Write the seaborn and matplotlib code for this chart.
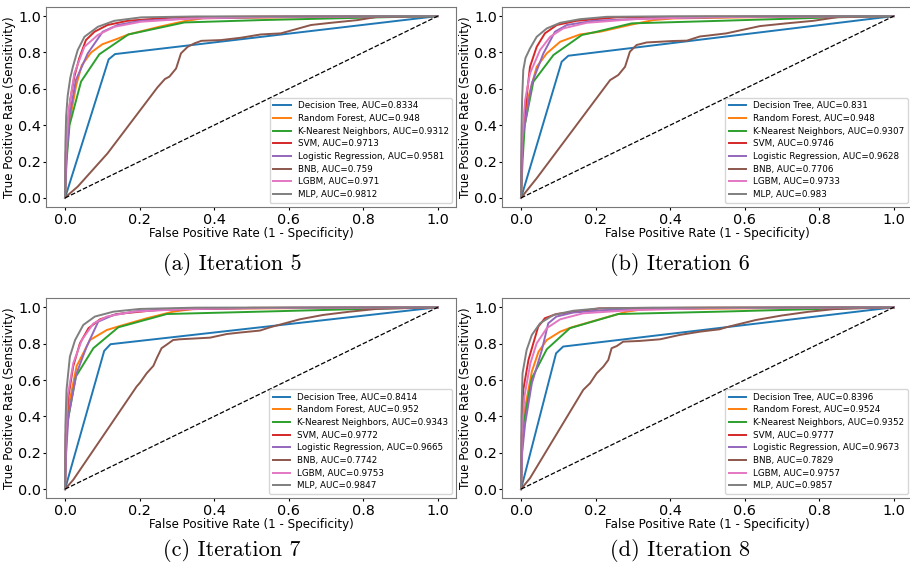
import pandas as pd
import seaborn as sns
import matplotlib.pyplot as plt

models = ['Decision Tree', 'Random Forest', 'K-Nearest Neighbors', 'SVM',
          'Logistic Regression', 'BNB', 'LGBM', 'MLP']
iterations = [5, 6, 7, 8]
tags = ['a', 'b', 'c', 'd']

# AUC values as printed in the legends
auc_5 = ['0.8334', '0.948', '0.9312', '0.9713', '0.9581', '0.759', '0.971', '0.9812']
auc_6 = ['0.831', '0.948', '0.9307', '0.9746', '0.9628', '0.7706', '0.9733', '0.983']
auc_7 = ['0.8414', '0.952', '0.9343', '0.9772', '0.9665', '0.7742', '0.9753', '0.9847']
auc_8 = ['0.8396', '0.9524', '0.9352', '0.9777', '0.9673', '0.7829', '0.9757', '0.9857']

# ROC points (fpr, tpr), iteration 5
dt_5 = ([0, 0.117, 0.134, 1], [0, 0.762, 0.791, 1])
rf_5 = ([0, 0.005, 0.012, 0.03, 0.045, 0.07, 0.1, 0.14, 0.17, 0.25, 0.32, 0.37, 0.6, 1],
        [0, 0.3, 0.42, 0.62, 0.73, 0.8, 0.845, 0.875, 0.899, 0.94, 0.972, 0.988, 0.993, 1])
knn_5 = ([0, 0.004, 0.012, 0.043, 0.092, 0.17, 0.32, 0.525, 0.84, 1],
         [0, 0.2, 0.4, 0.64, 0.79, 0.899, 0.965, 0.978, 0.993, 1])
svm_5 = ([0, 0.002, 0.008, 0.014, 0.025, 0.038, 0.056, 0.079, 0.114, 0.168, 0.293, 0.5, 1],
         [0, 0.25, 0.42, 0.54, 0.667, 0.767, 0.868, 0.914, 0.951, 0.974, 0.993, 0.997, 1])
lr_5 = ([0, 0.003, 0.012, 0.029, 0.061, 0.101, 0.141, 0.204, 0.338, 0.6, 1],
        [0, 0.2, 0.447, 0.648, 0.795, 0.914, 0.951, 0.974, 0.987, 0.996, 1])
bnb_5 = ([0, 0.003, 0.034, 0.114, 0.248, 0.268, 0.28, 0.298, 0.311, 0.329, 0.347, 0.366,
          0.418, 0.472, 0.525, 0.579, 0.66, 0.713, 0.785, 0.838, 1],
         [0, 0.007, 0.062, 0.245, 0.608, 0.654, 0.667, 0.712, 0.795, 0.831, 0.85, 0.864,
          0.868, 0.881, 0.899, 0.905, 0.951, 0.963, 0.978, 0.996, 1])
lgbm_5 = ([0, 0.002, 0.01, 0.025, 0.052, 0.088, 0.132, 0.204, 0.338, 0.517, 1],
          [0, 0.25, 0.484, 0.685, 0.831, 0.896, 0.941, 0.969, 0.987, 0.996, 1])
mlp_5 = ([0, 0.001, 0.003, 0.007, 0.014, 0.021, 0.034, 0.052, 0.088, 0.132, 0.204, 0.35, 1],
         [0, 0.3, 0.45, 0.56, 0.66, 0.721, 0.813, 0.886, 0.941, 0.974, 0.993, 0.998, 1])

# iteration 6
dt_6 = ([0, 0.109, 0.127, 1], [0, 0.749, 0.782, 1])
rf_6 = ([0, 0.004, 0.01, 0.02, 0.042, 0.069, 0.105, 0.158, 0.212, 0.3, 0.355, 0.408, 0.6, 1],
        [0, 0.3, 0.45, 0.557, 0.721, 0.795, 0.859, 0.899, 0.914, 0.955, 0.978, 0.987, 0.993, 1])
knn_6 = ([0, 0.004, 0.01, 0.033, 0.087, 0.163, 0.203, 0.297, 0.534, 0.837, 1],
         [0, 0.2, 0.4, 0.639, 0.786, 0.896, 0.914, 0.96, 0.974, 0.993, 1])
svm_6 = ([0, 0.002, 0.006, 0.011, 0.024, 0.042, 0.064, 0.096, 0.149, 0.256, 0.5, 1],
         [0, 0.25, 0.38, 0.484, 0.721, 0.831, 0.905, 0.951, 0.974, 0.993, 0.997, 1])
lr_6 = ([0, 0.002, 0.006, 0.029, 0.06, 0.091, 0.123, 0.194, 0.346, 0.6, 1],
        [0, 0.2, 0.355, 0.63, 0.795, 0.914, 0.951, 0.974, 0.987, 0.996, 1])
bnb_6 = ([0, 0.024, 0.042, 0.239, 0.261, 0.279, 0.292, 0.31, 0.337, 0.408, 0.445, 0.48,
          0.498, 0.551, 0.641, 0.712, 0.784, 0.855, 1],
         [0, 0.062, 0.108, 0.648, 0.676, 0.721, 0.804, 0.841, 0.855, 0.863, 0.865, 0.888,
          0.892, 0.905, 0.945, 0.96, 0.974, 0.996, 1])
lgbm_6 = ([0, 0.002, 0.011, 0.024, 0.051, 0.078, 0.113, 0.176, 0.301, 0.5, 1],
          [0, 0.3, 0.538, 0.685, 0.813, 0.886, 0.932, 0.963, 0.983, 0.995, 1])
mlp_6 = ([0, 0.001, 0.003, 0.006, 0.012, 0.024, 0.042, 0.069, 0.105, 0.158, 0.23, 0.4, 1],
         [0, 0.35, 0.55, 0.703, 0.77, 0.822, 0.886, 0.932, 0.963, 0.983, 0.996, 0.999, 1])

# iteration 7
dt_7 = ([0, 0.105, 0.122, 1], [0, 0.76, 0.797, 1])
rf_7 = ([0, 0.004, 0.013, 0.031, 0.067, 0.112, 0.147, 0.22, 0.29, 0.344, 0.6, 1],
        [0, 0.3, 0.491, 0.676, 0.82, 0.875, 0.897, 0.94, 0.976, 0.991, 0.995, 1])
knn_7 = ([0, 0.003, 0.029, 0.076, 0.143, 0.273, 0.523, 0.84, 1],
         [0, 0.326, 0.619, 0.775, 0.89, 0.963, 0.976, 0.993, 1])
svm_7 = ([0, 0.002, 0.009, 0.022, 0.04, 0.063, 0.094, 0.139, 0.246, 0.5, 1],
         [0, 0.3, 0.509, 0.676, 0.802, 0.885, 0.934, 0.963, 0.985, 0.997, 1])
lr_7 = ([0, 0.003, 0.009, 0.031, 0.058, 0.089, 0.13, 0.201, 0.35, 0.6, 1],
        [0, 0.2, 0.4, 0.637, 0.784, 0.921, 0.958, 0.981, 0.992, 0.997, 1])
bnb_7 = ([0, 0.022, 0.192, 0.201, 0.219, 0.237, 0.246, 0.259, 0.273, 0.29, 0.308, 0.389,
          0.434, 0.469, 0.523, 0.55, 0.63, 0.693, 0.764, 0.836, 1],
         [0, 0.051, 0.564, 0.585, 0.637, 0.678, 0.72, 0.775, 0.795, 0.82, 0.824, 0.833,
          0.853, 0.861, 0.872, 0.89, 0.934, 0.958, 0.976, 0.991, 1])
lgbm_7 = ([0, 0.002, 0.007, 0.022, 0.045, 0.076, 0.112, 0.183, 0.32, 0.5, 1],
          [0, 0.3, 0.509, 0.692, 0.82, 0.911, 0.949, 0.976, 0.99, 0.996, 1])
mlp_7 = ([0, 0.001, 0.004, 0.013, 0.027, 0.049, 0.08, 0.13, 0.201, 0.35, 1],
         [0, 0.35, 0.546, 0.729, 0.82, 0.903, 0.949, 0.976, 0.991, 0.998, 1])

# iteration 8
dt_8 = ([0, 0.094, 0.113, 1], [0, 0.747, 0.784, 1])
rf_8 = ([0, 0.004, 0.011, 0.029, 0.047, 0.069, 0.105, 0.136, 0.221, 0.283, 0.328, 0.6, 1],
        [0, 0.3, 0.45, 0.647, 0.756, 0.82, 0.866, 0.89, 0.94, 0.976, 0.989, 0.994, 1])
knn_8 = ([0, 0.004, 0.029, 0.069, 0.131, 0.261, 0.533, 0.84, 1],
         [0, 0.33, 0.61, 0.769, 0.885, 0.963, 0.976, 0.993, 1])
svm_8 = ([0, 0.002, 0.006, 0.02, 0.033, 0.046, 0.064, 0.095, 0.167, 0.21, 0.5, 1],
         [0, 0.3, 0.546, 0.711, 0.802, 0.893, 0.94, 0.963, 0.981, 0.994, 0.998, 1])
lr_8 = ([0, 0.003, 0.011, 0.029, 0.056, 0.073, 0.095, 0.14, 0.23, 0.5, 1],
        [0, 0.2, 0.36, 0.582, 0.766, 0.912, 0.949, 0.971, 0.985, 0.996, 1])
bnb_8 = ([0, 0.024, 0.167, 0.185, 0.203, 0.221, 0.234, 0.243, 0.257, 0.274, 0.319, 0.373,
          0.426, 0.48, 0.533, 0.55, 0.63, 0.7, 0.77, 0.84, 1],
         [0, 0.06, 0.546, 0.582, 0.637, 0.674, 0.71, 0.775, 0.787, 0.811, 0.815, 0.824,
          0.848, 0.866, 0.879, 0.89, 0.93, 0.955, 0.975, 0.99, 1])
lgbm_8 = ([0, 0.002, 0.009, 0.025, 0.042, 0.069, 0.105, 0.167, 0.301, 0.5, 1],
          [0, 0.3, 0.509, 0.692, 0.802, 0.885, 0.934, 0.967, 0.985, 0.995, 1])
mlp_8 = ([0, 0.001, 0.004, 0.015, 0.029, 0.051, 0.087, 0.14, 0.21, 0.35, 1],
         [0, 0.4, 0.637, 0.765, 0.848, 0.912, 0.958, 0.981, 0.994, 0.998, 1])

roc_5 = [dt_5, rf_5, knn_5, svm_5, lr_5, bnb_5, lgbm_5, mlp_5]
roc_6 = [dt_6, rf_6, knn_6, svm_6, lr_6, bnb_6, lgbm_6, mlp_6]
roc_7 = [dt_7, rf_7, knn_7, svm_7, lr_7, bnb_7, lgbm_7, mlp_7]
roc_8 = [dt_8, rf_8, knn_8, svm_8, lr_8, bnb_8, lgbm_8, mlp_8]

palette = sns.color_palette('tab10', 8)


def draw_roc(ax, roc, aucs):
    rows = []
    for name, auc, (fpr, tpr) in zip(models, aucs, roc):
        label = f'{name}, AUC={auc}'
        for x, y in zip(fpr, tpr):
            rows.append({'fpr': x, 'tpr': y, 'model': label})
    df = pd.DataFrame(rows)
    sns.lineplot(data=df, x='fpr', y='tpr', hue='model', palette=palette,
                 sort=False, estimator=None, linewidth=1.4, ax=ax)
    ax.plot([0, 1], [0, 1], 'k--', linewidth=0.9)
    ax.set_xlim(-0.05, 1.05)
    ax.set_ylim(-0.05, 1.05)
    ax.set_xticks([0, 0.2, 0.4, 0.6, 0.8, 1.0])
    ax.set_yticks([0, 0.2, 0.4, 0.6, 0.8, 1.0])
    ax.tick_params(labelsize=10.4, length=2.5, pad=1.5)
    ax.set_xlabel('False Positive Rate (1 - Specificity)', fontsize=8.6, labelpad=0.5)
    ax.set_ylabel('True Positive Rate (Sensitivity)', fontsize=8.6, labelpad=1)
    for sp in ax.spines.values():
        sp.set_color('#777777')
    sns.move_legend(ax, 'lower right', fontsize=6.3, title=None, labelspacing=0.42)


fig = plt.figure(figsize=(9.1, 5.69), dpi=100)
W, H = 910, 569
positions = [(46.4, 7), (502.4, 7), (46.4, 298.2), (502.4, 298.2)]
caption_pos = [(232, 264), (680, 264), (232, 551), (680, 551)]

for roc, aucs, (px, py), tag, it, (cx, cy) in zip(
        [roc_5, roc_6, roc_7, roc_8], [auc_5, auc_6, auc_7, auc_8],
        positions, tags, iterations, caption_pos):
    ax = fig.add_axes([px / W, 1 - (py + 200) / H, 410 / W, 200 / H])
    draw_roc(ax, roc, aucs)
    fig.text(cx / W, 1 - cy / H, f'({tag}) Iteration {it}', ha='center', va='center',
             fontsize=16, family='cmr10')

fig.savefig('out.png', dpi=100)
